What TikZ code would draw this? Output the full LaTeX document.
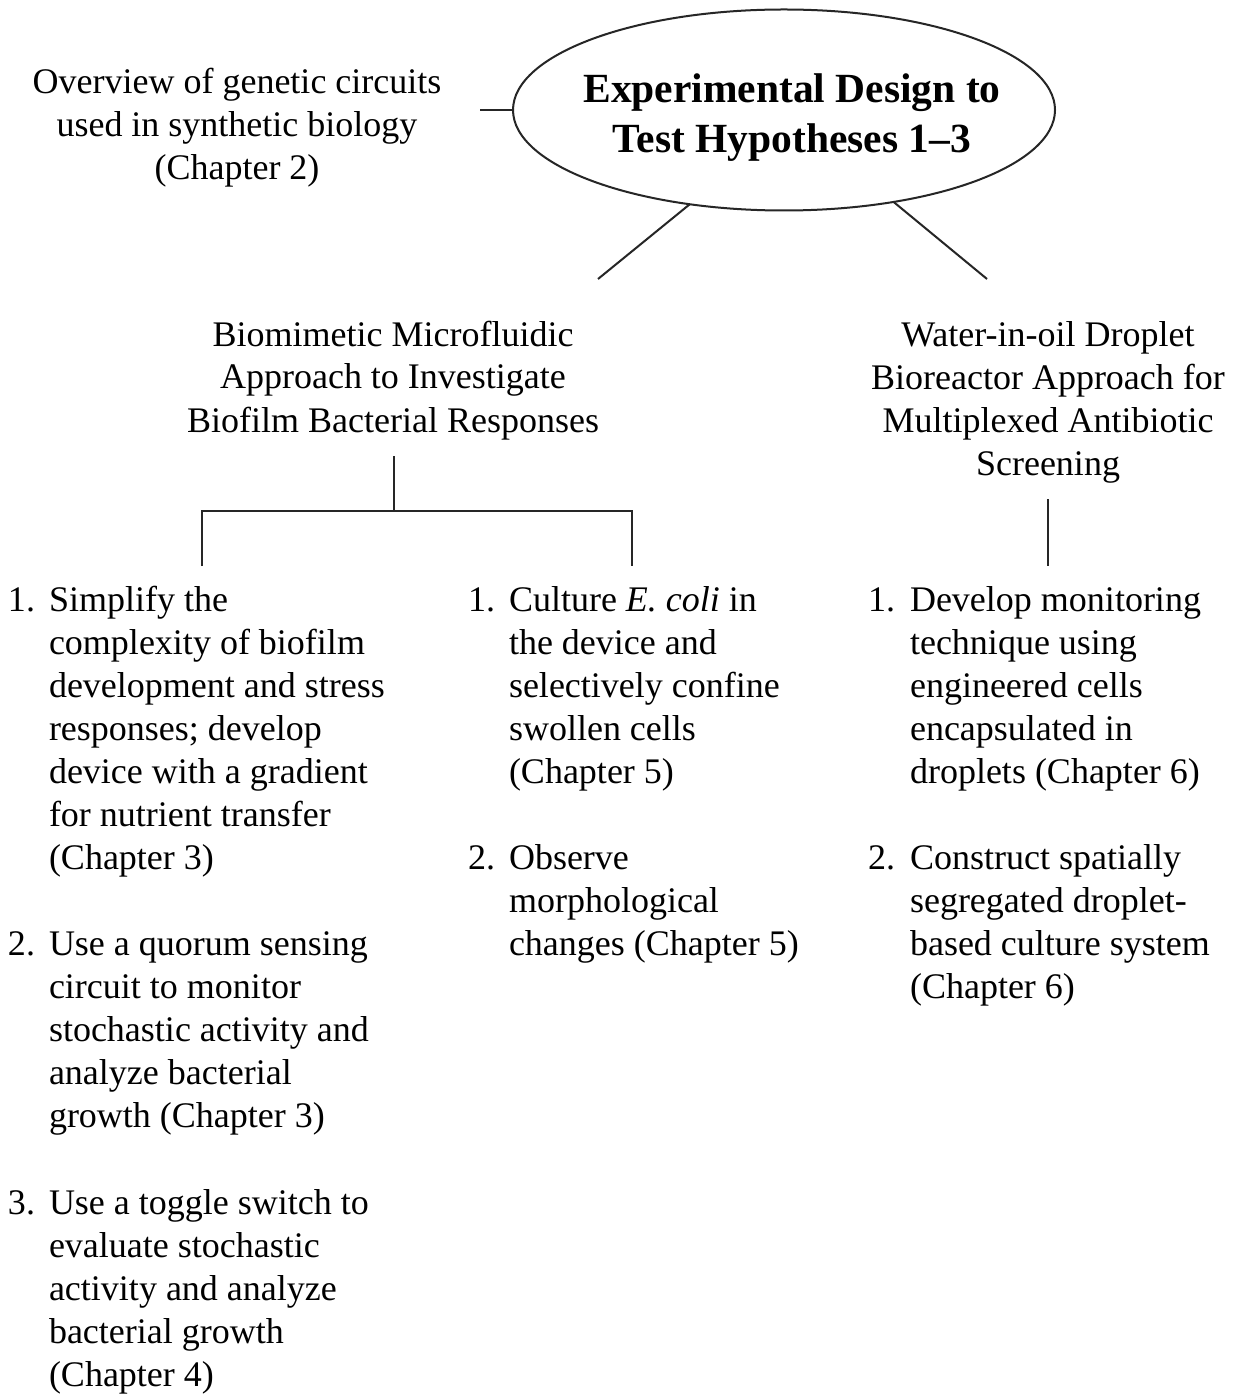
\documentclass[tikz,border=0pt]{standalone}
\usepackage{fontspec}
\setmainfont{Liberation Serif}
\usetikzlibrary{shapes.geometric}
\begin{document}
\begin{tikzpicture}[x=0.5pt,y=-0.5pt,
  txt/.style={inner sep=0pt, outer sep=0pt, font=\fontsize{18}{21.5}\selectfont},
  ctr/.style={txt, align=center, anchor=base},
  lst/.style={txt, align=left, anchor=base west},
  num/.style={txt, anchor=base west},
  conn/.style={line width=1pt, draw=black!85},
  hubstyle/.style={ellipse, draw=black!85, line width=1pt, minimum width=271pt, minimum height=100.5pt, inner sep=0pt, outer sep=0pt},
  titlestyle/.style={inner sep=0pt, outer sep=0pt, align=center, anchor=base, font=\fontsize{20.75}{25}\selectfont\bfseries}]
\fill[white] (0,0) rectangle (1234,1395);
\useasboundingbox (0,0) rectangle (1234,1395);
% central ellipse (base anchor = baseline of last line)
\node[hubstyle] (hub) at (784,110) {};
\node[titlestyle] (title) at (792,153) {Experimental Design to\\Test Hypotheses 1–3};
% overview
\node[ctr] (ov) at (237,180) {Overview of genetic circuits\\used in synthetic biology\\(Chapter 2)};
\coordinate (ovEnd) at (480,110);
\draw[conn] (ovEnd) -- (hub.west);
% branches
\coordinate (leftFoot) at (598,279);
\coordinate (rightFoot) at (987,279);
\draw[conn] (hub.225) -- (leftFoot);
\draw[conn] (hub.320) -- (rightFoot);
% approach headings
\node[ctr] (bio) at (393,432) {Biomimetic Microfluidic\\Approach to Investigate\\Biofilm Bacterial Responses};
\node[ctr] (wio) at (1048,475) {Water-in-oil Droplet\\Bioreactor Approach for\\Multiplexed Antibiotic\\Screening};
% connectors to lists
\coordinate (bioFoot) at (394,456);
\coordinate (junc) at (394,511);
\coordinate (leftTop) at (202,566);
\coordinate (midTop) at (632,566);
\draw[conn] (bioFoot) -- (junc);
\draw[conn] (leftTop) |- (junc) -| (midTop);
\coordinate (wioFoot) at (1048,499);
\coordinate (rightTop) at (1048,566);
\draw[conn] (wioFoot) -- (rightTop);
% left list
\node[num] (l1n) at (8,611) {1.};
\node[lst] (l1) at (49,869) {Simplify the\\complexity of biofilm\\development and stress\\responses; develop\\device with a gradient\\for nutrient transfer\\(Chapter 3)};
\node[num] (l2n) at (8,955) {2.};
\node[lst] (l2) at (49,1127) {Use a quorum sensing\\circuit to monitor\\stochastic activity and\\analyze bacterial\\growth (Chapter 3)};
\node[num] (l3n) at (8,1214) {3.};
\node[lst] (l3) at (49,1386) {Use a toggle switch to\\evaluate stochastic\\activity and analyze\\bacterial growth\\(Chapter 4)};
% middle list
\node[num] (m1n) at (468,611) {1.};
\node[lst] (m1) at (509,783) {Culture \textit{E. coli} in\\the device and\\selectively confine\\swollen cells\\(Chapter 5)};
\node[num] (m2n) at (468,869) {2.};
\node[lst] (m2) at (509,955) {Observe\\morphological\\changes (Chapter 5)};
% right list
\node[num] (r1n) at (868,611) {1.};
\node[lst] (r1) at (910,783) {Develop monitoring\\technique using\\engineered cells\\encapsulated in\\droplets (Chapter 6)};
\node[num] (r2n) at (868,869) {2.};
\node[lst] (r2) at (910,998) {Construct spatially\\segregated droplet-\\based culture system\\(Chapter 6)};
\end{tikzpicture}
\end{document}
